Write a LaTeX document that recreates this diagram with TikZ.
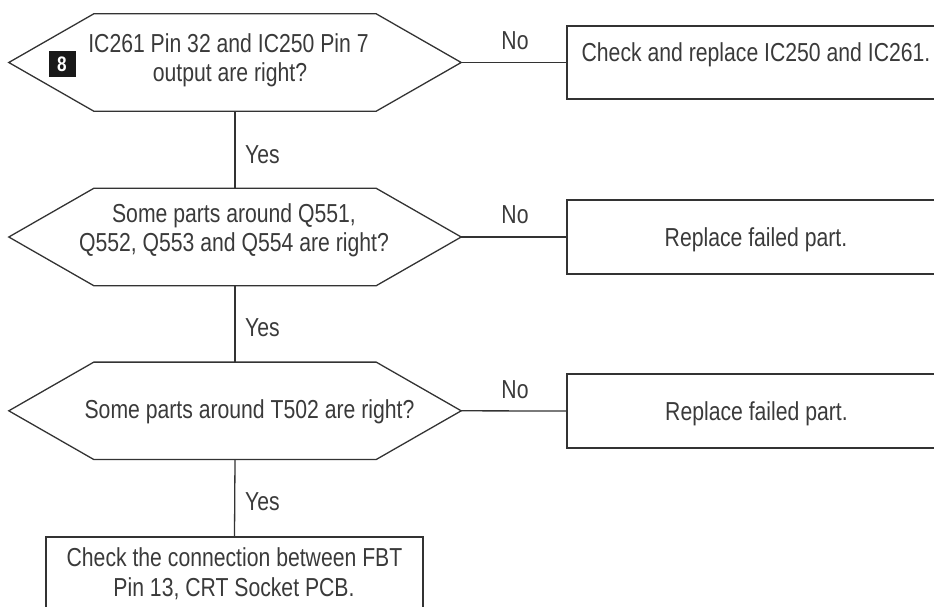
\documentclass[tikz,border=0pt]{standalone}
\usepackage{fontspec}
\setmainfont{Liberation Sans}[FakeStretch=0.815]
\usetikzlibrary{calc}
\definecolor{ink}{HTML}{333333}
\definecolor{txtink}{HTML}{3a3a3a}
\tikzset{
  line/.style={draw=ink, line width=1.3pt},
  hexshape/.style={minimum width=452pt, minimum height=97pt, inner sep=0pt},
  boxshape/.style={line, minimum width=378pt, minimum height=74pt, inner sep=0pt},
  txt/.style={text=txtink, font=\fontsize{26}{29.3}\selectfont, inner sep=0pt, anchor=base, align=center},
  lbl/.style={text=txtink, font=\fontsize{26}{29.3}\selectfont, inner sep=0pt, anchor=base},
  badge/.style={fill=black!90, text=white, minimum width=27pt, minimum height=26pt, inner sep=0pt, font=\fontsize{21}{21}\bfseries\selectfont}
}
\begin{document}
\begin{tikzpicture}[x=1pt, y=-1pt]
\useasboundingbox (0,0) rectangle (934,606);
% decision shapes
\node[hexshape] (h1) at (235,62.5) {};
\node[hexshape] (h2) at (235,237) {};
\node[hexshape] (h3) at (235,410.8) {};
\foreach \h in {h1,h2,h3}{
  \draw[line] (\h.west) -- ([xshift=85pt]\h.north west) -- ([xshift=-85pt]\h.north east)
    -- (\h.east) -- ([xshift=-85pt]\h.south east) -- ([xshift=85pt]\h.south west) -- cycle;
}
% action boxes
\node[boxshape, minimum height=73pt] (b1) at (756,62.5) {};
\node[boxshape] (b2) at (756,237) {};
\node[boxshape] (b3) at (756,411) {};
\node[boxshape, minimum width=377pt, minimum height=83pt] (b4) at (234.5,578.5) {};
% texts
\node[txt] (t1a) at (228.5,52.7) {IC261 Pin 32 and IC250 Pin 7};
\node[txt] (t1b) at (230,81.7) {output are right?};
\node[txt] (t2a) at (234,222.7) {Some parts around Q551,};
\node[txt] (t2b) at (234,251.7) {Q552, Q553 and Q554 are right?};
\node[txt] (t3) at (249.5,418.3) {Some parts around T502 are right?};
\node[txt] (tb1) at (756,61.7) {Check and replace IC250 and IC261.};
\node[txt] (tb2) at (756,246.7) {Replace failed part.};
\node[txt] (tb3) at (756.5,420) {Replace failed part.};
\node[txt] (tb4a) at (234.5,566.7) {Check the connection between FBT};
\node[txt] (tb4b) at (234,596) {Pin 13, CRT Socket PCB.};
\node[badge] (bd) at (62,64) {8};
% connectors
\draw[line] (h1.east) -- (b1.west);
\draw[line] (h2.east) -- (b2.west);
\draw[line] (h3.east) -- (b3.west);
\draw[line] (h1.south) -- (h2.north);
\draw[line] (h2.south) -- (h3.north);
\draw[line] (h3.south) -- (b4.north);
% labels
\node[lbl] (n1) at (515,49.5) {No};
\node[lbl] (n2) at (515,223.3) {No};
\node[lbl] (n3) at (515,398.3) {No};
\node[lbl, anchor=base west] (y1) at (245,163.3) {Yes};
\node[lbl, anchor=base west] (y2) at (245,336) {Yes};
\node[lbl, anchor=base west] (y3) at (245,510) {Yes};
\end{tikzpicture}
\end{document}
